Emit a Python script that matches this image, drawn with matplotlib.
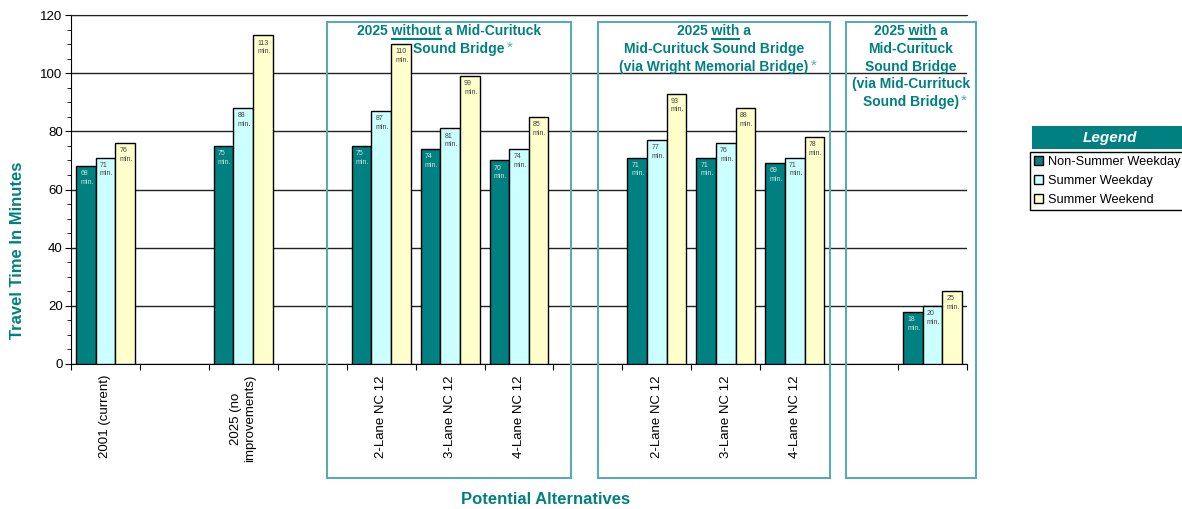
import numpy as np
import matplotlib
matplotlib.use("Agg")
import matplotlib.pyplot as plt
from matplotlib.patches import Rectangle
from matplotlib.lines import Line2D

plt.rcParams['font.family'] = ['Liberation Sans', 'DejaVu Sans']

# Data
categories = ["2001 (current)", "", "2025 (no\nimprovements)", "",
              "2-Lane NC 12", "3-Lane NC 12", "4-Lane NC 12", "",
              "2-Lane NC 12", "3-Lane NC 12", "4-Lane NC 12", "", ""]
nan = np.nan
non_summer_weekday = [68, nan, 75, nan, 75, 74, 70, nan, 71, 71, 69, nan, 18]
summer_weekday = [71, nan, 88, nan, 87, 81, 74, nan, 77, 76, 71, nan, 20]
summer_weekend = [76, nan, 113, nan, 110, 99, 85, nan, 93, 88, 78, nan, 25]
series_names = ["Non-Summer Weekday", "Summer Weekday", "Summer Weekend"]

group_titles = [
    ["2025 _without_ a Mid-Curituck", "Sound Bridge*"],
    ["2025 _with_ a", "Mid-Curituck Sound Bridge", "(via Wright Memorial Bridge)*"],
    ["2025 _with_ a", "Mid-Curituck", "Sound Bridge", "(via Mid-Currituck", "Sound Bridge)*"],
]

# Style / layout
TEAL = "#008080"
BOX_EDGE = "#5aacac"
colors = ["#008080", "#CCFFFF", "#FFFFCC"]
label_colors = ["#cfe6e6", "#404040", "#404040"]
W, H = 1182, 509
# group boxes in pixels (x0, x1, y_top, y_bottom)
boxes_px = [(327, 571, 22, 478), (598, 830, 22, 478), (846, 976, 22, 478)]
# small horizontal nudges of title lines (pixels)
title_shift = [[0, 10], [0, 0, 0], [0, 0, 0, 0, 0]]


def fx(px):
    return px / W


def fy(py):
    return 1 - py / H


fig = plt.figure(figsize=(W / 100, H / 100), dpi=100)
ax = fig.add_axes([fx(71), fy(364), fx(967) - fx(71), fy(15) - fy(364)])

x = np.arange(len(categories))
bw = 0.285
containers = []
for i, (vals, c) in enumerate(zip([non_summer_weekday, summer_weekday, summer_weekend], colors)):
    bc = ax.bar(x + (i - 1) * bw, vals, bw, color=c, edgecolor="black",
                linewidth=1, label=series_names[i], zorder=3)
    containers.append(bc)
    for rect, v in zip(bc.patches, vals):
        if np.isnan(v):
            continue
        ax.annotate(f"{v}\nmin.", xy=(rect.get_x(), v), xytext=(3, -3),
                    textcoords="offset points", ha="left", va="top",
                    fontsize=5, linespacing=1.35, color=label_colors[i], zorder=4)

ax.set_xlim(-0.5, len(categories) - 0.5)
ax.set_ylim(0, 120)
ax.set_yticks(np.arange(0, 121, 20))
ax.set_yticks(np.arange(0, 121, 5), minor=True)
ax.tick_params(axis="y", which="major", direction="out", length=4, labelsize=9.5, pad=2)
ax.tick_params(axis="y", which="minor", direction="out", length=3)

# boundary ticks + centred labels
ax.set_xticks(np.arange(-0.5, len(categories), 1.0))
ax.set_xticklabels([])
ax.set_xticks(x, minor=True)
ax.set_xticklabels(categories, minor=True, rotation=90, fontsize=9.5)
ax.tick_params(axis="x", which="major", direction="out", length=4)
ax.tick_params(axis="x", which="minor", length=0, pad=8)

ax.yaxis.grid(True, color="#222222", linewidth=1, zorder=0)
ax.set_axisbelow(True)
ax.spines["right"].set_visible(False)
ax.spines["top"].set_color("#222222")
ax.spines["left"].set_color("black")
ax.spines["bottom"].set_color("black")

# axis titles
fig.text(fx(18), fy(250), "Travel Time In Minutes", rotation=90, ha="center", va="center",
         fontsize=12, fontweight="bold", color=TEAL)
fig.text(fx(546), fy(500), "Potential Alternatives", ha="center", va="center",
         fontsize=12, fontweight="bold", color=TEAL)

# group boxes
for (x0, x1, y0, y1) in boxes_px:
    fig.patches.append(Rectangle((fx(x0), fy(y1)), fx(x1) - fx(x0), fy(y0) - fy(y1),
                                 transform=fig.transFigure, fill=False,
                                 edgecolor=BOX_EDGE, linewidth=1.5, zorder=5))

# group titles with underlined word and trailing asterisk
fig.canvas.draw()
renderer = fig.canvas.get_renderer()
title_kw = dict(fontsize=10, fontweight="bold", color=TEAL)


def text_w(s):
    t = fig.text(0, 0, s + "l", **title_kw)
    w = t.get_window_extent(renderer).width
    t.set_text("l")
    w -= t.get_window_extent(renderer).width
    t.remove()
    return w


for (x0, x1, y0, y1), lines, shifts in zip(boxes_px, group_titles, title_shift):
    cx = (x0 + x1) / 2
    for j, raw in enumerate(lines):
        star = raw.endswith("*")
        s = raw.rstrip("*")
        plain = s.replace("_", "")
        w = text_w(plain)
        left = cx - w / 2 + shifts[j]
        ypx = 31 + 17.8 * j
        fig.text(fx(left), fy(ypx), plain, ha="left", va="center", zorder=6, **title_kw)
        if "_" in s:
            pre, word, _ = s.split("_")
            ux0 = left + text_w(pre)
            ux1 = ux0 + text_w(word)
            fig.add_artist(Line2D([fx(ux0), fx(ux1)], [fy(ypx + 8), fy(ypx + 8)],
                                  transform=fig.transFigure, color=TEAL, linewidth=1.5))
        if star:
            fig.text(fx(left + w + 2), fy(ypx - 1), "*", ha="left", va="center",
                     fontsize=11, color="#4fb0b0", zorder=6)

# legend
fig.patches.append(Rectangle((fx(1032), fy(149)), fx(1182) - fx(1032), fy(126) - fy(149),
                             transform=fig.transFigure, facecolor=TEAL, edgecolor="none"))
fig.text(fx(1110), fy(138), "Legend", ha="center", va="center", fontsize=11,
         fontweight="bold", fontstyle="italic", color="white")
leg = fig.legend(handles=containers, labels=series_names, loc="upper left",
                 bbox_to_anchor=(fx(1030), fy(152)), fontsize=9.2, frameon=True,
                 fancybox=False, edgecolor="black", framealpha=1, borderpad=0.3,
                 handlelength=0.7, handleheight=0.7, handletextpad=0.4,
                 labelspacing=0.55, borderaxespad=0)
leg.get_frame().set_linewidth(1)

fig.savefig("out.png", dpi=100)
